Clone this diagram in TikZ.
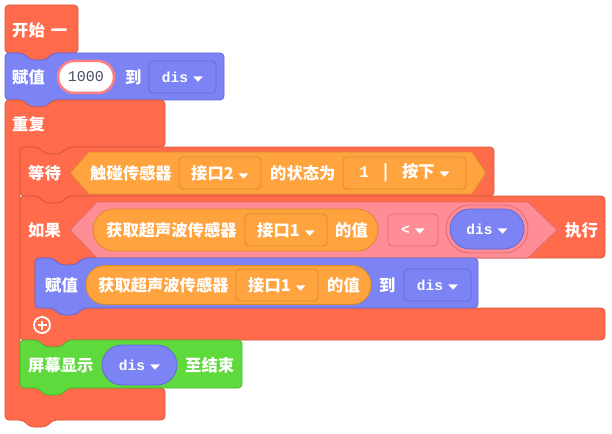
\documentclass[tikz,border=0pt]{standalone}
\usepackage{fontspec}
\setmainfont{Noto Sans CJK SC}
\newfontfamily\lat{Liberation Mono}
\newfontfamily\symf{DejaVu Sans}
\usetikzlibrary{positioning}

\definecolor{blockred}{HTML}{FF6B4B}
\definecolor{redline}{HTML}{D9553B}
\definecolor{blockblue}{HTML}{7B83F5}
\definecolor{blueline}{HTML}{6369D8}
\definecolor{blockgreen}{HTML}{5EDA3C}
\definecolor{greenline}{HTML}{4BB52C}
\definecolor{reporterorange}{HTML}{FFA33F}
\definecolor{orangeline}{HTML}{D98A2E}
\definecolor{boolpink}{HTML}{FF8D95}
\definecolor{pinkline}{HTML}{E06C75}
\definecolor{inputgray}{HTML}{4A5068}

% small dropdown arrow
\newcommand{\dn}{\hspace{5pt}{\symf\fontsize{9}{9}\selectfont\raisebox{1pt}{\scalebox{1.45}[0.8]{▼}}}}

% stack block: style, left, top, right, bottom
\newcommand{\stackblock}[5][]{%
  \draw[#1] (#2,#3) -- ({#2+18},#3) -- ({#2+25},{#3+7}) -- ({#2+41},{#3+7}) -- ({#2+48},#3)
    -- (#4,#3) -- (#4,#5) -- ({#2+48},#5) -- ({#2+41},{#5+7}) -- ({#2+25},{#5+7})
    -- ({#2+18},#5) -- (#2,#5) -- cycle;}

% C block: style, left, top, right, header bottom, arm right, foot top, bottom
\newcommand{\cblock}[8][]{%
  \draw[#1] (#2,#3) -- ({#2+18},#3) -- ({#2+25},{#3+7}) -- ({#2+41},{#3+7}) -- ({#2+48},#3)
    -- (#4,#3) -- (#4,#5) -- ({#6+48},#5) -- ({#6+41},{#5+7}) -- ({#6+25},{#5+7})
    -- ({#6+18},#5) -- (#6,#5) -- (#6,#7) -- (#4,#7) -- (#4,#8)
    -- ({#2+48},#8) -- ({#2+41},{#8+7}) -- ({#2+25},{#8+7}) -- ({#2+18},#8) -- (#2,#8) -- cycle;}

\begin{document}
\begin{tikzpicture}[x=1pt, y=-1pt,
    redblock/.style={fill=blockred, draw=redline, line width=0.8pt, rounded corners=4pt},
    blueblock/.style={fill=blockblue, draw=blueline, line width=0.8pt, rounded corners=4pt},
    greenblock/.style={fill=blockgreen, draw=greenline, line width=0.8pt, rounded corners=4pt},
    lbl/.style={anchor=west, inner sep=0pt, text=white, font=\bfseries\fontsize{16.3}{19}\selectfont},
    dd/.style={rounded corners=4pt, inner sep=0pt, line width=0.8pt, text=white, font=\bfseries\fontsize{16.3}{19}\selectfont, minimum height=32pt},
    ddorange/.style={dd, fill=reporterorange, draw=orangeline},
    ddblue/.style={dd, fill=blockblue, draw=blueline},
    ddpink/.style={dd, fill=boolpink, draw=pinkline},
    reporter/.style={inner sep=0pt, line width=0.8pt, text=white, font=\bfseries\fontsize{16.3}{19}\selectfont},
    latin/.style={font=\lat\bfseries\fontsize{14.5}{16}\selectfont}
  ]
  \fill[white] (0,0) rectangle (612,433);
  \useasboundingbox (0,0) rectangle (612,433);

  % Hat block
  \draw[redblock] (5,53) -- (5,5) -- (78,5) -- (78,53) -- (53,53) -- (46,60) -- (30,60) -- (23,53) -- cycle;
  \node[lbl] (start) at (12,30) {开始\hspace{6pt}一};

  % Set value
  \stackblock[blueblock]{5}{53}{224}{100}
  \node[lbl] (set1) at (12,77) {赋值};
  \node[draw=boolpink!90!red, fill=white, line width=2.5pt, rounded corners=16pt, minimum width=56pt, minimum height=32pt, inner sep=0pt,
        text=inputgray, font=\lat\fontsize{15}{16}\selectfont] (num) at (86,77) {1000};
  \node[lbl] (to1) at (125,77) {到};
  \node[ddblue, minimum width=67pt, latin] (var1) at (182.5,77) {dis\dn};

  % Repeat
  \cblock[redblock]{5}{100}{165}{147}{20}{388}{420}
  \node[lbl] (loop) at (12,124) {重复};

  % Wait until
  \stackblock[redblock]{20}{147}{494}{196}
  \node[lbl] (wait) at (28,173) {等待};
  \draw[fill=reporterorange, draw=orangeline, line width=0.8pt] (70,173) -- (89,152) -- (472,152) -- (486,173) -- (472,194) -- (89,194) -- cycle;
  \node[lbl] (touch) at (90,173) {触碰传感器};
  \node[ddorange, minimum width=82pt] (port2) at (220,173) {接口2\dn};
  \node[lbl] (state) at (270,173) {的状态为};
  \node[ddorange, minimum width=123pt] (press) at (404.5,173) {{\lat 1}\hspace{14pt}|\hspace{14pt}按下\dn};

  % If
  \cblock[redblock]{20}{196}{605}{258}{35}{308}{340}
  \node[lbl] (cond) at (28,230) {如果};
  \draw[fill=boolpink, draw=pinkline, line width=0.8pt] (70,230) -- (97,202) -- (528,202) -- (557,230) -- (528,258) -- (97,258) -- cycle;
  \node[reporter, fill=reporterorange, draw=orangeline, rounded corners=21pt, minimum width=285pt, minimum height=42pt] (sonar1) at (235.5,230) {};
  \node[lbl] (sonartxt1) at (106,230) {获取超声波传感器};
  \node[ddorange, minimum width=82pt] (port1a) at (286,230) {接口1\dn};
  \node[lbl] (val1) at (335,230) {的值};
  \node[ddpink, minimum width=50pt, latin] (less) at (413,230) {<\dn};
  \node[reporter, fill=boolpink, draw=pinkline, rounded corners=24pt, minimum width=82pt, minimum height=48pt] (slot) at (487,229) {};
  \node[reporter, fill=blockblue, draw=blueline, rounded corners=20pt, minimum width=74pt, minimum height=40pt, latin] (var2) at (487,229) {dis\dn};
  \node[lbl] (then) at (565,230) {执行};

  % Set value inside if
  \stackblock[blueblock]{35}{258}{478}{308}
  \node[lbl] (set2) at (45,285) {赋值};
  \node[reporter, fill=reporterorange, draw=orangeline, rounded corners=19pt, minimum width=285pt, minimum height=39pt] (sonar2) at (228.5,285) {};
  \node[lbl] (sonartxt2) at (98,285) {获取超声波传感器};
  \node[ddorange, minimum width=82pt] (port1b) at (277,285) {接口1\dn};
  \node[lbl] (val2) at (327,285) {的值};
  \node[lbl] (to2) at (379,285) {到};
  \node[ddblue, minimum width=67pt, latin] (var3) at (437.5,285) {dis\dn};

  % Add button
  \node[circle, draw=white, line width=1.8pt, minimum size=16pt, inner sep=0pt] (plus) at (42,325) {};
  \draw[white, line width=1.8pt] (plus.center) +(-4.5,0) -- +(4.5,0);
  \draw[white, line width=1.8pt] (plus.center) +(0,-4.5) -- +(0,4.5);

  % Show on screen
  \stackblock[greenblock]{20}{340}{242}{388}
  \node[lbl] (show) at (28,365) {屏幕显示};
  \node[reporter, fill=blockblue, draw=blueline, rounded corners=20pt, minimum width=75pt, minimum height=40pt, latin] (var4) at (139.5,365) {dis\dn};
  \node[lbl] (toend) at (185,365) {至结束};
\end{tikzpicture}
\end{document}
